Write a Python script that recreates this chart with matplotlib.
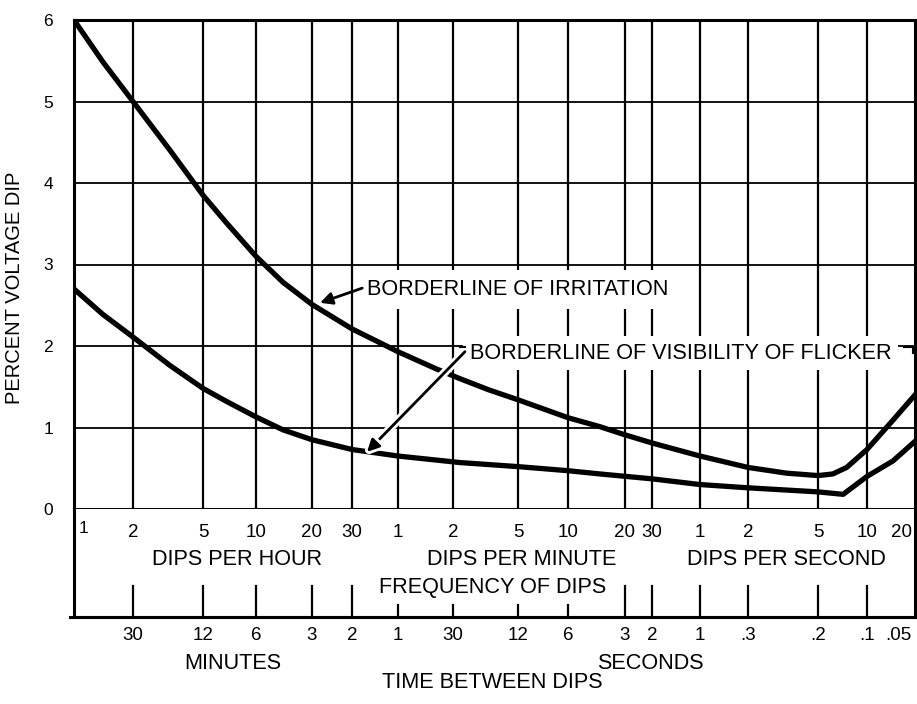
"""Flicker curve: percent voltage dip vs. frequency of dips."""

import numpy as np
import matplotlib.pyplot as plt
from matplotlib import patheffects

plt.rcParams["font.family"] = ["Liberation Sans", "DejaVu Sans"]

# ── Data ──────────────────────────────────────────────────────────────────────

# frequency ticks, in dips per hour
TICK_FREQ = [1, 2, 5, 10, 20, 30, 60, 120, 300, 600, 1200, 1800,
             3600, 7200, 18000, 36000, 72000]
FREQ_LABELS = ["1", "2", "5", "10", "20", "30", "1", "2", "5", "10", "20", "30",
               "1", "2", "5", "10", "20"]
# time between dips, for TICK_FREQ[1:]
TIME_LABELS = ["30", "12", "6", "3", "2", "1", "30", "12", "6", "3", "2", "1",
               ".3", ".2", ".1", ".05"]
SHORT_TICKS = [60, 120, 300, 600]

IRRITATION_FREQ = [1, 1.4, 2, 3.25, 5, 6.8, 10, 14, 20, 30, 60, 97, 132, 200,
                   300, 600, 885, 1200, 1800, 3600, 7200, 11900, 18000, 22200,
                   27000, 36000, 52400, 72000]
IRRITATION_DIP = [6.0, 5.49, 5.0, 4.40, 3.85, 3.51, 3.10, 2.78, 2.51, 2.21, 1.93,
                  1.72, 1.60, 1.46, 1.34, 1.12, 1.01, 0.91, 0.81, 0.65, 0.51,
                  0.44, 0.41, 0.43, 0.51, 0.73, 1.09, 1.40]

VISIBILITY_FREQ = [1, 1.4, 2, 3.25, 5, 6.8, 10, 14, 20, 30, 60, 132, 300, 600,
                   885, 1800, 3600, 7200, 18000, 25700, 36000, 52400, 72000]
VISIBILITY_DIP = [2.70, 2.39, 2.11, 1.76, 1.48, 1.32, 1.13, 0.97, 0.85, 0.73,
                  0.65, 0.57, 0.52, 0.47, 0.43, 0.37, 0.30, 0.26, 0.21, 0.18,
                  0.40, 0.59, 0.83]

# ── Layout ────────────────────────────────────────────────────────────────────

W, H = 917, 704
# pixel position of each frequency tick along the (hand-drawn) axis
TICK_PX = [74, 133, 203, 256, 312, 352, 398, 453, 518, 568, 625, 652,
           700, 748, 818, 867, 915]
LOG_FREQ = np.log10(TICK_FREQ)
SCALE_POS = np.array(TICK_PX, dtype=float) - TICK_PX[0]

FS = 15.6      # captions
FS_NUM = 13.5  # tick numbers under the chart
INK = "black"


def forward(f):
    with np.errstate(divide="ignore", invalid="ignore"):
        lf = np.log10(np.clip(f, 1e-12, None))
    return np.interp(lf, LOG_FREQ, SCALE_POS)


def inverse(p):
    return 10 ** np.interp(p, SCALE_POS, LOG_FREQ)


fig = plt.figure(figsize=(W / 100, H / 100), dpi=100)
ax = fig.add_axes([74 / W, 1 - 509 / H, 841 / W, 489 / H])
box = fig.add_axes([74 / W, 1 - 617 / H, 841 / W, 108 / H])

for a in (ax, box):
    a.set_xscale("function", functions=(forward, inverse))
    a.set_xlim(TICK_FREQ[0], TICK_FREQ[-1])
    a.set_xticks([])
    a.set_yticks([])
    for s in a.spines.values():
        s.set_linewidth(2.2)
        s.set_color(INK)

# ── Main grid ─────────────────────────────────────────────────────────────────

ax.set_ylim(0, 6)
ax.set_yticks(range(7))
ax.tick_params(axis="y", length=0, pad=15, labelsize=12.5)
for v in range(1, 6):
    ax.axhline(v, color=INK, lw=1.3, zorder=1)
for f in TICK_FREQ[1:-1]:
    ax.axvline(f, color=INK, lw=1.6, zorder=1)

ax.set_ylabel("PERCENT VOLTAGE DIP", fontsize=14.5)
ax.yaxis.set_label_coords(-0.0595, 0.452)

ax.plot(IRRITATION_FREQ, IRRITATION_DIP, color=INK, lw=3.8,
        solid_joinstyle="round", zorder=3)
ax.plot(VISIBILITY_FREQ, VISIBILITY_DIP, color=INK, lw=3.8,
        solid_joinstyle="round", zorder=3)

# ── Annotations ───────────────────────────────────────────────────────────────

ax.text(37.6, 2.69, "BORDERLINE OF IRRITATION", fontsize=FS, va="center",
        ha="left", zorder=2,
        bbox=dict(boxstyle="square,pad=0.42", fc="white", ec="none"))
ax.annotate("", xy=(21.7, 2.53), xytext=(35, 2.71),
            arrowprops=dict(arrowstyle="-|>", lw=2, color=INK,
                            mutation_scale=18, shrinkA=0, shrinkB=0),
            zorder=4)

ax.text(152, 1.91, "BORDERLINE OF VISIBILITY OF FLICKER", fontsize=FS,
        va="center", ha="left", zorder=2,
        bbox=dict(boxstyle="square,pad=0.3", fc="white", ec="none"))
arr = ax.annotate("", xy=(37.6, 0.70), xytext=(142, 1.93),
                  arrowprops=dict(arrowstyle="-|>", lw=2, color=INK,
                                  mutation_scale=18, shrinkA=0, shrinkB=0),
                  zorder=4)
arr.arrow_patch.set_path_effects(
    [patheffects.withStroke(linewidth=6, foreground="white")])
# small leader marks round the label
ax.plot([132, 142], [1.99, 1.99], color=INK, lw=1.5, zorder=4)
ax.plot([61000, 70000, 70000], [1.99, 1.99, 1.92], color=INK, lw=1.5, zorder=4)

# ── Frequency / time box ──────────────────────────────────────────────────────

box.set_ylim(0, 1)
box.spines["top"].set_visible(False)
box.plot([-0.005, 1], [0, 0], color=INK, lw=2.2, transform=box.transAxes,
         clip_on=False)

for f in TICK_FREQ[1:-1]:
    top = 0.11 if f in SHORT_TICKS else 0.29
    box.plot([f, f], [0, top], color=INK, lw=1.6)

last = len(TICK_FREQ) - 1
for i, (f, lab) in enumerate(zip(TICK_FREQ, FREQ_LABELS)):
    if i == 0:
        box.text(inverse(5), 0.82, lab, fontsize=FS_NUM - 1, ha="left", va="center")
    elif i == last:
        box.text(inverse(838), 0.787, lab, fontsize=FS_NUM, ha="right", va="center")
    else:
        box.text(f, 0.787, lab, fontsize=FS_NUM, ha="center", va="center")

for i, (f, lab) in enumerate(zip(TICK_FREQ[1:], TIME_LABELS)):
    if i == len(TIME_LABELS) - 1:
        box.text(inverse(838), -0.167, lab, fontsize=FS_NUM, ha="right",
                 va="center")
    else:
        box.text(f, -0.167, lab, fontsize=FS_NUM, ha="center", va="center")

box.text(0.194, 0.528, "DIPS PER HOUR", fontsize=FS, ha="center", va="center",
         transform=box.transAxes)
box.text(0.532, 0.528, "DIPS PER MINUTE", fontsize=FS, ha="center", va="center",
         transform=box.transAxes)
box.text(0.847, 0.528, "DIPS PER SECOND", fontsize=FS, ha="center", va="center",
         transform=box.transAxes)
box.text(0.498, 0.27, "FREQUENCY OF DIPS", fontsize=FS, ha="center", va="center",
         transform=box.transAxes)
box.text(0.189, -0.426, "MINUTES", fontsize=FS, ha="center", va="center",
         transform=box.transAxes, clip_on=False)
box.text(0.685, -0.426, "SECONDS", fontsize=FS, ha="center", va="center",
         transform=box.transAxes, clip_on=False)
box.text(0.497, -0.611, "TIME BETWEEN DIPS", fontsize=FS, ha="center",
         va="center", transform=box.transAxes, clip_on=False)

fig.savefig("out.png", dpi=100)
